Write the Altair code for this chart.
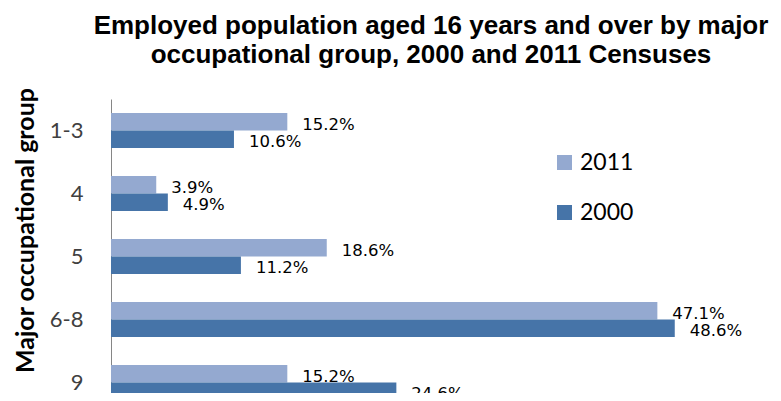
import altair as alt
import pandas as pd

groups = ["1-3", "4", "5", "6-8", "9"]
share_2011 = [15.2, 3.9, 18.6, 47.1, 15.2]
share_2000 = [10.6, 4.9, 11.2, 48.6, 24.6]
years = ["2011", "2000"]
colors = ["#94A9D0", "#4674A8"]

rows = []
for g, a, b in zip(groups, share_2011, share_2000):
    rows.append({"group": g, "year": "2011", "value": a})
    rows.append({"group": g, "year": "2000", "value": b})
df = pd.DataFrame(rows)
df["label"] = df["value"].map(lambda v: f"{v:.1f}%")

base = alt.Chart(df).encode(
    y=alt.Y(
        "group:N",
        sort=groups,
        scale=alt.Scale(range=[0, 315], paddingInner=0.444, paddingOuter=0.222),
        axis=alt.Axis(
            title="Major occupational group",
            labelFont="Lato",
            labelFontSize=22,
            labelColor="#404040",
            labelPadding=28,
            ticks=False,
            domainColor="#868686",
            titleFont="Lato",
            titleFontWeight="bold",
            titleFontSize=25,
            titleColor="#000000",
            titleAngle=270,
            titleX=-78,
            titleY=131,
            titleBaseline="alphabetic",
            titleAlign="center",
            grid=False,
        ),
    ),
    yOffset=alt.YOffset("year:N", sort=years, scale=alt.Scale(paddingInner=0, paddingOuter=0)),
    x=alt.X("value:Q", scale=alt.Scale(domain=[0, 50]), axis=None),
)

bars = base.mark_bar().encode(
    color=alt.Color(
        "year:N",
        scale=alt.Scale(domain=years, range=colors),
        legend=alt.Legend(
            title=None,
            orient="none",
            legendX=442,
            legendY=52,
            direction="vertical",
            symbolType="square",
            symbolSize=225,
            symbolStrokeWidth=0,
            labelFont="Lato",
            labelFontSize=23,
            labelColor="#000000",
            labelOffset=4,
            rowPadding=26,
            padding=0,
        ),
    )
)

text = base.mark_text(
    align="left", baseline="middle", dx=15, dy=3,
    font="DejaVu Sans", fontSize=16.5, color="#000000",
).encode(text="label:N")

chart = alt.layer(bars, text).properties(
    width=580,
    height=294,
    title=alt.TitleParams(
        text=["Employed population aged 16 years and over by major",
              "occupational group, 2000 and 2011 Censuses"],
        font="Liberation Sans",
        fontSize=26,
        fontWeight="bold",
        color="#000000",
        anchor="middle",
        frame="group",
        dx=30,
        dy=40,
        offset=33,
        lineHeight=29,
        baseline="bottom",
    ),
    padding={"left": 103, "top": 91, "right": 82, "bottom": 0},
    autosize=alt.AutoSizeParams(type="none"),
    background="white",
).configure_view(stroke=None)

chart.save("out.html", embed_options={"renderer": "svg", "actions": False})
